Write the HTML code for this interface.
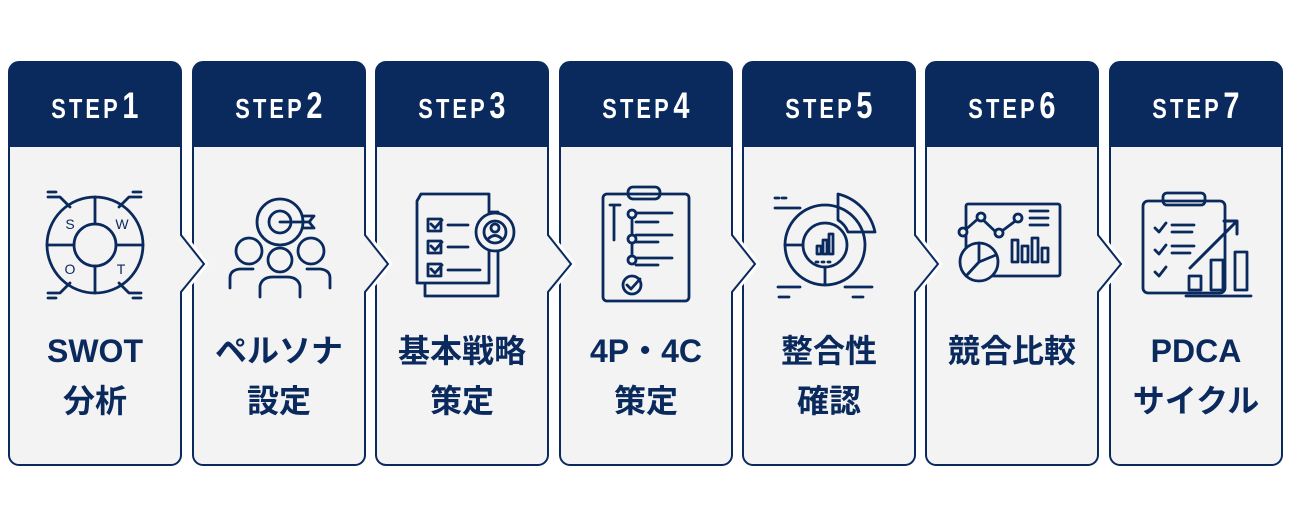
<!DOCTYPE html>
<html><head><meta charset="utf-8"><style>
html,body{margin:0;padding:0;background:#fff;width:1300px;height:530px;overflow:hidden}
.wrap{position:relative;width:1300px;height:530px}
svg.bg{position:absolute;left:0;top:0}
.hd{position:absolute;top:62px;height:85px;width:172px;color:#fff;font-family:"Liberation Sans",sans-serif;font-weight:bold;text-align:center;line-height:88px;font-size:28px;letter-spacing:4px}
.hd span{display:inline-block;transform:scaleX(0.78);transform-origin:center}
.hd b{font-size:37px;letter-spacing:0;margin-left:2px}
.lb{position:absolute;top:326px;width:172px;text-align:center;color:#0a2a5e;font-family:"Liberation Sans","Noto Sans CJK JP",sans-serif;font-weight:bold;font-size:32px;line-height:50px}
</style></head><body><div class="wrap">
<svg class="bg" width="1300" height="530" viewBox="0 0 1300 530">
<g id="cards"></g>
</svg>
</div>
<script>
var xs=[9,193,376,560,743,926,1110];
var svg=document.querySelector('#cards');
function card(x,last){
 var r=10,w=172,t=62,b=465;
 var d='M'+(x+r)+','+t+' H'+(x+w-r)+' A'+r+','+r+' 0 0 1 '+(x+w)+','+(t+r);
 if(!last) d+=' V235 L'+(x+w+23)+',264 L'+(x+w)+',292';
 d+=' V'+(b-r)+' A'+r+','+r+' 0 0 1 '+(x+w-r)+','+b+' H'+(x+r)+' A'+r+','+r+' 0 0 1 '+x+','+(b-r)+' V'+(t+r)+' A'+r+','+r+' 0 0 1 '+(x+r)+','+t+' Z';
 return '<path d="'+d+'" fill="none" stroke="#fff" stroke-width="8"/>'+
 '<path d="'+d+'" fill="#f3f3f3" stroke="#0a2a5e" stroke-width="2"/>'+
 '<path d="M'+(x+r)+','+t+' H'+(x+w-r)+' A'+r+','+r+' 0 0 1 '+(x+w)+','+(t+r)+' V147 H'+x+' V'+(t+r)+' A'+r+','+r+' 0 0 1 '+(x+r)+','+t+' Z" fill="#0a2a5e"/>';
}
var out='';
for(var i=6;i>=0;i--) out+=card(xs[i],i==6);
var N='fill="none" stroke="#0a2a5e" stroke-width="2.8" stroke-linecap="round" stroke-linejoin="round"';
var ic=[];
ic[0]='<g '+N+'><circle cx="95" cy="245" r="48"/><circle cx="95" cy="245" r="21"/><path d="M95 197V224M95 266V293M47 245H74M116 245H143M48 192H56M48 197H60L70 207M141 192H133M141 197H129L119 207M48 298H56M48 293H60L70 283M141 298H133M141 293H129L119 283"/></g><g fill="#0a2a5e" font-family="Liberation Sans" font-size="14" text-anchor="middle"><text x="70" y="229">S</text><text x="122" y="229">W</text><text x="70" y="274">O</text><text x="121" y="274">T</text></g>';
ic[1]='<g '+N+'><circle cx="280" cy="222" r="23"/><circle cx="280" cy="222" r="11"/><path d="M280 222H310M303 216L314 216 309 222 314 228 303 228"/><circle cx="249" cy="251" r="13"/><circle cx="280" cy="260" r="12"/><circle cx="311" cy="251" r="13"/><path d="M230 288V278Q230 270 240 269H253M330 288V278Q330 270 320 269H307M260 297V286Q262 277 273 277H287Q298 277 300 286V297"/></g>';
ic[2]='<g '+N+'><path d="M421 194H489V283H417V201Z M425 283V296H498V212H491"/><path d="M428 219h13v12h-13zM428 241h13v12h-13zM428 264h13v12h-13zM448 225h20M448 247h20M448 270h32"/><path d="M431 224l4 4 7-8M431 246l4 4 7-8M431 269l4 4 7-8"/><circle cx="495" cy="232" r="19" fill="#f3f3f3"/><circle cx="495" cy="232" r="11"/><circle cx="495" cy="228" r="4"/><path d="M488 239q7-7 14 0"/></g>';
ic[3]='<g '+N+'><rect x="603" y="194" width="86" height="107" rx="4"/><rect x="628" y="187" width="32" height="12" rx="5"/><path d="M614 205V240M610 205h10M636 213h36M636 222h22M636 235h36M636 242h22M636 258h36M636 265h22"/><circle cx="632" cy="214" r="4"/><circle cx="632" cy="239" r="4"/><circle cx="632" cy="260" r="4"/><path d="M632 218V235M632 243V256"/><circle cx="632" cy="285" r="9"/><path d="M627 285l4 4 9-10"/></g>';
ic[4]='<g '+N+'><circle cx="825" cy="245" r="40"/><circle cx="825" cy="245" r="22"/><path d="M838 194A50 50 0 0 1 875 232H848A24 24 0 0 0 838 220Z" /><path d="M825 267V285M803 245H785"/><path d="M817 254v-8h4v8zM823 254v-14h4v14zM829 254v-20h4v20z"/><path d="M775 208H800M775 198h4M782 198h4M778 287H800M779 297h10M845 287H872M853 297h10M816 262h2M822 262h2M828 262h2"/></g>';
ic[5]='<g '+N+'><rect x="966" y="204" width="94" height="72" rx="2"/><path d="M963 232L980 217 998 234 1018 219"/><circle cx="963" cy="232" r="4" fill="#f3f3f3"/><circle cx="981" cy="217" r="4" fill="#f3f3f3"/><circle cx="999" cy="233" r="4" fill="#f3f3f3"/><circle cx="1018" cy="218" r="4" fill="#f3f3f3"/><path d="M1030 211h18M1030 218h18M1030 225h18M1012 262v-22h6v22zM1022 262v-16h6v16zM1032 262v-24h6v24zM1042 262v-14h6v14z"/><circle cx="979" cy="262" r="19" fill="#f3f3f3"/><path d="M979 262V243M979 262L996 255M979 262L966 276"/></g>';
ic[6]='<g '+N+'><rect x="1143" y="201" width="82" height="92" rx="5"/><rect x="1163" y="193" width="42" height="12" rx="4"/><path d="M1155 228l4 4 7-9M1155 250l4 4 7-9M1155 272l4 4 7-9M1172 225h22M1172 232h20M1172 246h22M1172 253h18"/><path d="M1190 268L1235 223M1224 221h13v13" stroke-width="3"/><rect x="1189" y="276" width="12" height="14" fill="#f3f3f3"/><rect x="1211" y="260" width="12" height="30" fill="#f3f3f3"/><rect x="1235" y="252" width="12" height="38" fill="#f3f3f3"/><path d="M1186 296H1251"/></g>';
out+=ic.join('');
svg.innerHTML=out;
</script>
<div class="hd" style="left:9px"><span>STEP<b>1</b></span></div>
<div class="hd" style="left:193px"><span>STEP<b>2</b></span></div>
<div class="hd" style="left:376px"><span>STEP<b>3</b></span></div>
<div class="hd" style="left:560px"><span>STEP<b>4</b></span></div>
<div class="hd" style="left:743px"><span>STEP<b>5</b></span></div>
<div class="hd" style="left:926px"><span>STEP<b>6</b></span></div>
<div class="hd" style="left:1110px"><span>STEP<b>7</b></span></div>
<div class="lb" style="left:9px">SWOT<br>分析</div>
<div class="lb" style="left:193px">ペルソナ<br>設定</div>
<div class="lb" style="left:376px">基本戦略<br>策定</div>
<div class="lb" style="left:560px">4P・4C<br>策定</div>
<div class="lb" style="left:743px">整合性<br>確認</div>
<div class="lb" style="left:926px">競合比較</div>
<div class="lb" style="left:1110px">PDCA<br>サイクル</div>
</body></html>
